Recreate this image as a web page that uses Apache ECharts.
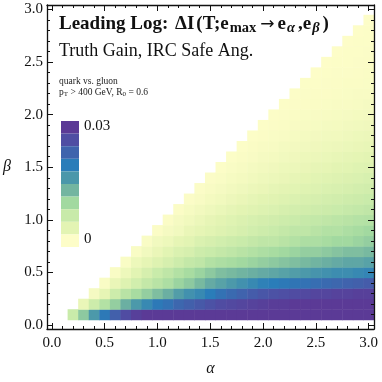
<!DOCTYPE html>
<html>
<head>
<meta charset="utf-8">
<script src="https://cdn.jsdelivr.net/npm/echarts@6/dist/echarts.min.js"></script>
<style>
html, body { margin: 0; padding: 0; background: #fff; }
#chart { width: 382px; height: 382px; }
</style>
</head>
<body>
<div id="chart"></div>
<script>
// cell centres
const alphaVals = [0.2,0.3,0.4,0.5,0.6,0.7,0.8,0.9,1.0,1.1,1.2,1.3,1.4,1.5,1.6,1.7,1.8,1.9,2.0,2.1,2.2,2.3,2.4,2.5,2.6,2.7,2.8,2.9,3.0];
const betaVals = [0.1,0.2,0.3,0.4,0.5,0.6,0.7,0.8,0.9,1.0,1.1,1.2,1.3,1.4,1.5,1.6,1.7,1.8,1.9,2.0,2.1,2.2,2.3,2.4,2.5,2.6,2.7,2.8,2.9];

// ΔI per beta row, alpha running from beta+0.1 up to 3.0
const dIRows = [
  [0.0065,0.0115,0.0165,0.0205,0.024,0.027,0.029,0.030,0.030,0.030,0.030,0.030,0.030,0.030,0.030,0.030,0.030,0.030,0.030,0.030,0.030,0.030,0.030,0.030,0.030,0.030,0.030,0.030,0.030],
  [0.0025,0.006,0.0085,0.011,0.014,0.0165,0.0185,0.0205,0.0215,0.023,0.024,0.025,0.026,0.027,0.0275,0.028,0.0285,0.029,0.0295,0.0295,0.030,0.030,0.030,0.030,0.030,0.030,0.030,0.030],
  [0.001,0.003,0.006,0.008,0.0095,0.011,0.0125,0.014,0.016,0.0175,0.0185,0.020,0.0215,0.0225,0.0235,0.0245,0.0255,0.026,0.0265,0.027,0.0275,0.028,0.028,0.0285,0.0285,0.029,0.029],
  [0.0005,0.0025,0.004,0.0055,0.007,0.008,0.009,0.0105,0.0115,0.013,0.0145,0.0155,0.0165,0.0175,0.0185,0.0195,0.020,0.0205,0.021,0.0215,0.022,0.0225,0.023,0.0235,0.024,0.0245],
  [0.0005,0.002,0.0035,0.005,0.0065,0.0075,0.0085,0.0095,0.0105,0.0115,0.0125,0.013,0.0135,0.014,0.0145,0.015,0.0155,0.016,0.0165,0.017,0.0175,0.018,0.018,0.0185,0.019],
  [0.0005,0.002,0.003,0.004,0.005,0.006,0.007,0.0075,0.0085,0.009,0.0095,0.010,0.0105,0.011,0.0115,0.012,0.0125,0.013,0.0135,0.014,0.0145,0.015,0.015,0.0155],
  [0.0005,0.0015,0.0025,0.0035,0.0045,0.005,0.006,0.0065,0.007,0.0075,0.008,0.0085,0.009,0.0095,0.010,0.0105,0.011,0.011,0.0115,0.012,0.0125,0.0125,0.013],
  [0.0005,0.0015,0.002,0.003,0.0035,0.0045,0.005,0.0055,0.006,0.0065,0.007,0.0075,0.0075,0.008,0.0085,0.009,0.009,0.0095,0.010,0.010,0.0105,0.011],
  [0.0003,0.001,0.0015,0.0025,0.003,0.0035,0.004,0.0045,0.005,0.0055,0.006,0.0065,0.007,0.0075,0.0075,0.008,0.0085,0.0085,0.009,0.0095,0.010],
  [0.0003,0.0010,0.0016,0.0022,0.0028,0.0033,0.0038,0.0043,0.0048,0.0052,0.0056,0.0060,0.0064,0.0068,0.0071,0.0074,0.0077,0.0080,0.0083,0.0085],
  [0.0003,0.0009,0.0014,0.0019,0.0024,0.0029,0.0033,0.0037,0.0041,0.0045,0.0049,0.0053,0.0056,0.0059,0.0062,0.0065,0.0068,0.0071,0.0074],
  [0.0002,0.0007,0.0012,0.0016,0.0021,0.0025,0.0029,0.0033,0.0036,0.0040,0.0043,0.0047,0.0050,0.0053,0.0056,0.0059,0.0062,0.0065],
  [0.0002,0.0006,0.0010,0.0014,0.0018,0.0022,0.0025,0.0029,0.0032,0.0035,0.0038,0.0041,0.0044,0.0047,0.0050,0.0053,0.0056],
  [0.0002,0.0005,0.0009,0.0012,0.0016,0.0019,0.0022,0.0025,0.0028,0.0031,0.0034,0.0037,0.0039,0.0042,0.0045,0.0048],
  [0.0001,0.0005,0.0008,0.0011,0.0014,0.0017,0.0020,0.0022,0.0025,0.0028,0.0030,0.0033,0.0035,0.0038,0.0040],
  [0.0001,0.0004,0.0007,0.0010,0.0012,0.0015,0.0017,0.0020,0.0022,0.0024,0.0027,0.0029,0.0031,0.0033],
  [0.0001,0.0004,0.0006,0.0008,0.0011,0.0013,0.0015,0.0017,0.0019,0.0021,0.0023,0.0025,0.0027],
  [0.0001,0.0003,0.0005,0.0007,0.0009,0.0011,0.0013,0.0015,0.0016,0.0018,0.0020,0.0022],
  [0.0001,0.0003,0.0004,0.0006,0.0008,0.0009,0.0011,0.0012,0.0014,0.0016,0.0017],
  [0.0001,0.0002,0.0004,0.0005,0.0006,0.0008,0.0009,0.0010,0.0012,0.0013],
  [0.0001,0.0002,0.0003,0.0004,0.0005,0.0006,0.0007,0.0008,0.0010],
  [0.0001,0.0002,0.0003,0.0003,0.0004,0.0005,0.0006,0.0007],
  [0.0001,0.0001,0.0002,0.0003,0.0004,0.0004,0.0005],
  [0.0000,0.0001,0.0002,0.0002,0.0003,0.0004],
  [0.0000,0.0001,0.0001,0.0002,0.0003],
  [0.0000,0.0001,0.0001,0.0002],
  [0.0000,0.0001,0.0001],
  [0.0000,0.0001],
  [0.0000]
];

const majorTicks = [0, 0.5, 1.0, 1.5, 2.0, 2.5, 3.0];
const minorTicks = [0,0.1,0.2,0.3,0.4,0.5,0.6,0.7,0.8,0.9,1.0,1.1,1.2,1.3,1.4,1.5,1.6,1.7,1.8,1.9,2.0,2.1,2.2,2.3,2.4,2.5,2.6,2.7,2.8,2.9,3.0];
const palette = ['#fdfdc8','#e3f4b3','#c8eaa9','#a2d9a0','#73b5a0','#4a97aa','#2a7db9','#3f64ad','#4f4ea3','#5b3a96'];
const legendSteps = [0,0.003,0.006,0.009,0.012,0.015,0.018,0.021,0.024,0.027];

const data = [];
dIRows.forEach((row, r) => {
  row.forEach((v, j) => data.push([alphaVals[r + j], betaVals[r], v]));
});

const serif = "'Liberation Serif', 'DejaVu Serif', serif";
const ink = '#111';
const half = 0.05;

function frameAxis(pos, isX, ticks, len, labels, extra) {
  return {
    type: 'value', position: pos, z: 10,
    min: isX ? -0.045 : -0.038, max: isX ? 3.05 : 3.043,
    splitLine: { show: false },
    axisLine: { show: !!labels || extra === 'line', onZero: false, lineStyle: { color: ink, width: 1.3 } },
    axisTick: { show: true, inside: true, length: len, customValues: ticks, lineStyle: { color: ink, width: 1 } },
    axisLabel: labels ? { show: true, customValues: majorTicks, formatter: v => v.toFixed(1),
      fontFamily: serif, fontSize: 15, color: ink, margin: isX ? 7 : 4 } : { show: false }
  };
}

const xBottom = frameAxis('bottom', true, majorTicks, 6, true);
xBottom.name = 'α';
xBottom.nameLocation = 'middle';
xBottom.nameGap = 32;
xBottom.nameTextStyle = { fontFamily: serif, fontStyle: 'italic', fontSize: 16, color: ink };
const yLeft = frameAxis('left', false, majorTicks, 6, true);
yLeft.name = 'β';
yLeft.nameLocation = 'middle';
yLeft.nameRotate = 0;
yLeft.nameGap = 36;
yLeft.nameTextStyle = { fontFamily: serif, fontStyle: 'italic', fontSize: 16, color: ink };

const chart = echarts.init(document.getElementById('chart'));
chart.setOption({
  animation: false,
  grid: { left: 47, right: 8, top: 5, bottom: 51 },
  xAxis: [
    xBottom,
    frameAxis('bottom', true, minorTicks, 3, false),
    frameAxis('top', true, majorTicks, 6, false, 'line'),
    frameAxis('top', true, minorTicks, 3, false)
  ],
  yAxis: [
    yLeft,
    frameAxis('left', false, minorTicks, 3, false),
    frameAxis('right', false, majorTicks, 6, false, 'line'),
    frameAxis('right', false, minorTicks, 3, false)
  ],
  visualMap: [
    { type: 'continuous', show: false, seriesIndex: 0, dimension: 2, min: 0, max: 0.03,
      inRange: { color: palette } },
    { type: 'piecewise', seriesIndex: 1, orient: 'vertical', left: 61, top: 121, padding: 0,
      itemWidth: 18, itemHeight: 12.6, itemGap: 0, itemSymbol: 'rect', showLabel: false,
      selectedMode: false, hoverLink: false,
      pieces: legendSteps.map((s, i) => ({ min: s, max: s + 0.003, color: palette[i] })) }
  ],
  graphic: [
    { type: 'text', left: 59, top: 15, z: 20, style: {
        text: '{b|Leading Log: }{d|ΔI}{b|(T;e}{s|max}{r|→}{b|e}{g|α}{b|,e}{g|β}{b|)}',
        rich: {
          b: { fontFamily: serif, fontWeight: 'bold', fontSize: 19, lineHeight: 22, verticalAlign: 'middle', fill: ink },
          d: { fontFamily: serif, fontWeight: 'bold', fontSize: 19, lineHeight: 22, verticalAlign: 'middle', fill: ink, padding: [0, 2, 0, 2] },
          s: { fontFamily: serif, fontWeight: 'bold', fontSize: 14.5, lineHeight: 13, verticalAlign: 'bottom', fill: ink, padding: [0, 2, 0, 1] },
          g: { fontFamily: serif, fontWeight: 'bold', fontStyle: 'italic', fontSize: 14.5, lineHeight: 13, verticalAlign: 'bottom', fill: ink, padding: [0, 3, 0, 1] },
          r: { fontFamily: "'DejaVu Sans', sans-serif", fontSize: 17, lineHeight: 22, verticalAlign: 'middle', fill: ink, padding: [0, 3, 0, 2] }
        } } },
    { type: 'text', left: 59, top: 42, z: 20, style: {
        text: 'Truth Gain, IRC Safe Ang.', fontFamily: serif, fontSize: 18, fill: ink } },
    { type: 'text', left: 59, top: 76, z: 20, style: {
        text: 'quark vs. gluon', fontFamily: serif, fontSize: 9.5, fill: '#222' } },
    { type: 'text', left: 59, top: 87, z: 20, style: {
        text: '{n|p}{s|T}{n| > 400 GeV, R}{s|0}{n| = 0.6}',
        rich: {
          n: { fontFamily: serif, fontSize: 9.5, lineHeight: 12, verticalAlign: 'middle', fill: '#222' },
          s: { fontFamily: serif, fontSize: 7, lineHeight: 8, verticalAlign: 'bottom', fill: '#222' }
        } } },
    { type: 'text', left: 84, top: 119, z: 20, style: {
        text: '0.03', fontFamily: serif, fontSize: 15, fill: ink } },
    { type: 'text', left: 84, top: 232, z: 20, style: {
        text: '0', fontFamily: serif, fontSize: 15, fill: ink } }
  ],
  series: [
    {
      type: 'custom', xAxisIndex: 0, yAxisIndex: 0, data: data,
      renderItem: function (params, api) {
        const a = api.value(0), b = api.value(1);
        const p0 = api.coord([a - half, b + half]);
        const p1 = api.coord([a + half, b - half]);
        return {
          type: 'rect',
          shape: { x: p0[0], y: p0[1], width: p1[0] - p0[0] + 0.5, height: p1[1] - p0[1] + 0.5 },
          style: { fill: api.visual('color') }
        };
      }
    },
    { type: 'custom', data: [], renderItem: function () { return null; } }
  ]
});
</script>
</body>
</html>
